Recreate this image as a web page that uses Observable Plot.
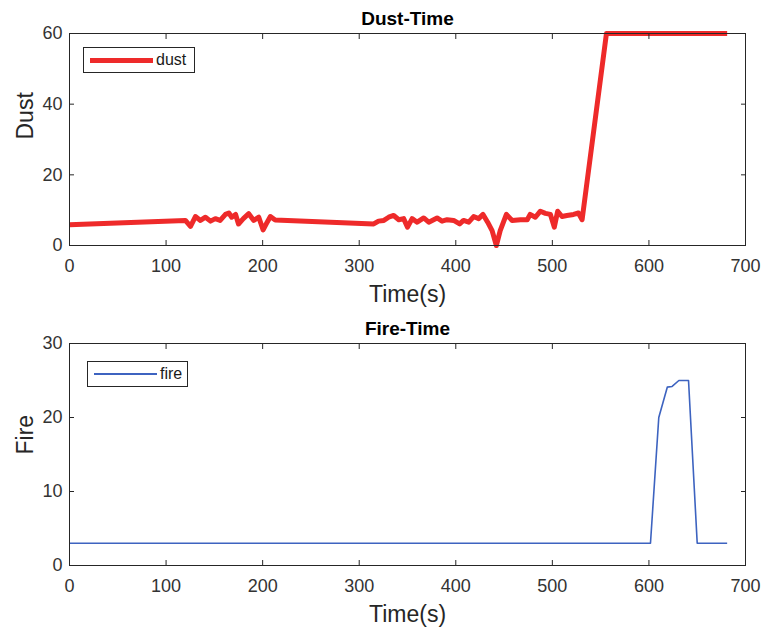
<!DOCTYPE html>
<html>
<head>
<meta charset="utf-8">
<script src="https://cdn.jsdelivr.net/npm/d3@7"></script>
<script src="https://cdn.jsdelivr.net/npm/@observablehq/plot@0.6"></script>
<style>
  html, body { margin: 0; padding: 0; background: #fff; }
  #wrap { position: relative; width: 762px; height: 630px; font-family: "Liberation Sans", Arial, sans-serif; }
  #wrap svg { display: block; }
  .legend { position: absolute; background: #fff; border: 1px solid #262626; box-sizing: border-box; }
  .legend .sw { position: absolute; }
  .legend .lb { position: absolute; font-size: 16px; color: #1a1a1a; line-height: 1; }
</style>
</head>
<body>
<div id="wrap"></div>
<script>
// ---- data ----
const dustTime = [0,120,125.3,130.4,135.6,140.8,146,151,156,161.5,165,168,172,175,180,185.6,190.8,196,200.5,204.7,208,213,
  315,320,325.5,330.5,335.7,341,346,350,354.8,360,366.8,372,380.6,385.8,391,397.8,404,408,413.4,418.5,423.7,428.2,433,437.6,442,446,452.4,458.3,467,474,477,482.4,487.6,492.8,498,502,505.5,510,515,522,527,530.8,
  556,681];
const dustValue = [5.9,7.1,5.4,8.2,7.1,8.0,6.9,7.6,7.1,8.8,9.2,8.0,8.8,6.1,7.6,9.0,7.1,8.0,4.4,6.6,8.2,7.2,
  6.1,6.9,7.1,8.0,8.5,7.3,7.6,5.2,7.6,6.6,7.8,6.6,7.8,6.9,7.3,7.1,6.1,7.1,6.6,8.2,7.6,8.8,6.6,4.2,0,4.2,8.8,7.1,7.3,7.3,8.8,8.0,9.7,9.1,8.8,5.2,9.7,8.2,8.5,8.8,9.2,7.3,
  60,60];
const fireTime = [0,601.6,610.2,619,624,631,639.6,641,650,681];
const fireValue = [3,3,20,24.1,24.2,25,25,25,3,3];
const xTicks = [0,100,200,300,400,500,600,700];
const dustTicks = [0,20,40,60];
const fireTicks = [0,10,20,30];

const dust = dustTime.map((t, i) => ({t, v: dustValue[i]}));
const fire = fireTime.map((t, i) => ({t, v: fireValue[i]}));

const axisColor = "#262626";
const tickColor = "#333333";
const font = "Liberation Sans, Arial, sans-serif";

function panel({data, yDomain, yTicks, color, strokeWidth, title, ylabel, height, mTop, mBottom}) {
  return Plot.plot({
    width: 762,
    height,
    marginLeft: 69,
    marginRight: 17,
    marginTop: mTop,
    marginBottom: mBottom,
    style: {fontFamily: font, fontSize: "18px", color: axisColor, background: "#fff", overflow: "visible"},
    x: {domain: [0, 700], axis: null, label: null},
    y: {domain: yDomain, axis: null, label: null},
    marks: [
      Plot.line(data, {x: "t", y: "v", stroke: color, strokeWidth, strokeLinejoin: "round", strokeLinecap: "butt"}),
      Plot.frame({stroke: axisColor, strokeWidth: 1}),
      // tick labels
      Plot.axisX(xTicks, {anchor: "bottom", label: null, tickSize: 0, tickPadding: 14, fill: tickColor, fontSize: 18}),
      Plot.axisY(yTicks, {anchor: "left", label: null, tickSize: 0, tickPadding: 7, fill: tickColor, fontSize: 18}),
      // inward ticks on all sides
      Plot.axisX(xTicks, {anchor: "bottom", label: null, tickSize: -5, tickFormat: () => "", stroke: axisColor}),
      Plot.axisX(xTicks, {anchor: "top", label: null, tickSize: -5, tickFormat: () => "", stroke: axisColor}),
      Plot.axisY(yTicks, {anchor: "left", label: null, tickSize: -5, tickFormat: () => "", stroke: axisColor}),
      Plot.axisY(yTicks, {anchor: "right", label: null, tickSize: -5, tickFormat: () => "", stroke: axisColor}),
      // title & labels
      Plot.text([title], {frameAnchor: "top", dy: -15, text: d => d, fontWeight: "bold", fontSize: 19, fill: "#000", lineAnchor: "middle"}),
      Plot.text(["Time(s)"], {frameAnchor: "bottom", dy: 49, text: d => d, fontSize: 23, fill: axisColor, lineAnchor: "middle"}),
      Plot.text([ylabel], {frameAnchor: "left", dx: -44, text: d => d, fontSize: 23, fill: axisColor, rotate: -90, lineAnchor: "middle"})
    ]
  });
}

const wrap = document.getElementById("wrap");
wrap.appendChild(panel({data: dust, yDomain: [0, 60], yTicks: dustTicks, color: "#ee2a2a", strokeWidth: 5,
  title: "Dust-Time", ylabel: "Dust", height: 315, mTop: 33, mBottom: 70}));
wrap.appendChild(panel({data: fire, yDomain: [0, 30], yTicks: fireTicks, color: "#3d63c0", strokeWidth: 1.6,
  title: "Fire-Time", ylabel: "Fire", height: 315, mTop: 28, mBottom: 65}));

function legend(left, top, w, h, color, sw, label) {
  const box = document.createElement("div");
  box.className = "legend";
  Object.assign(box.style, {left: left + "px", top: top + "px", width: w + "px", height: h + "px"});
  const line = document.createElement("div");
  line.className = "sw";
  Object.assign(line.style, {left: "6px", top: (h / 2 - 1 - sw / 2) + "px", width: "63px", height: sw + "px", background: color});
  const lb = document.createElement("div");
  lb.className = "lb";
  lb.textContent = label;
  Object.assign(lb.style, {left: "72px", top: (h / 2 - 9) + "px"});
  box.appendChild(line);
  box.appendChild(lb);
  wrap.appendChild(box);
}
legend(83, 47, 112, 26, "#ee2a2a", 5, "dust");
legend(87, 361, 101, 26, "#3d63c0", 1.6, "fire");
</script>
</body>
</html>
